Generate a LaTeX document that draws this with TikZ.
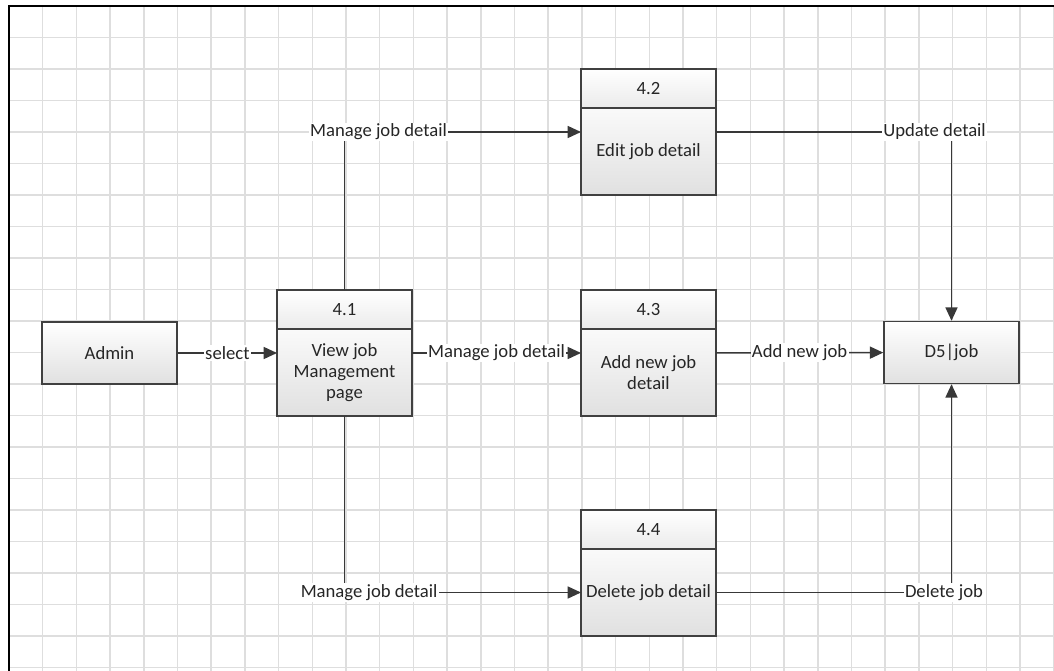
\documentclass[tikz,border=0pt]{standalone}
\usepackage{fontspec}
\setmainfont{Carlito}
\usetikzlibrary{arrows.meta,positioning,fit}

\begin{document}
\begin{tikzpicture}[
        x=0.75pt, y=-0.75pt,
        font=\fontsize{14}{15.8}\selectfont,
        gridline/.style={draw=black!13, line width=1.1pt},
        entity/.style={draw=black!75, line width=1.1pt, top color=white, bottom color=black!12, minimum width=101.25pt, minimum height=46.5pt, text=black!85},
        prochead/.style={draw=black!75, line width=1.1pt, top color=white, bottom color=black!8, minimum width=101.25pt, minimum height=29.25pt, inner sep=0pt, outer sep=0pt, text=black!85},
        procbody/.style={prochead, top color=black!2, bottom color=black!12, minimum height=65.25pt, align=center},
        procbox/.style={inner sep=0pt, outer sep=0pt},
        flow/.style={draw=black!78, line width=1.1pt, -{Triangle[length=10pt, width=9pt]}},
        flowlabel/.style={fill=white, inner sep=1pt, text=black!85},
    ]

    \useasboundingbox (0,0) rectangle (1054,671);
    \fill[white] (0,0) rectangle (1054,671);

    % Grid
    \foreach \k in {1,...,31}
        \draw[gridline] ({9+33.7*\k},6) -- ({9+33.7*\k},671);
    \foreach \k in {1,...,21}
        \draw[gridline] (9,{6+31.5*\k}) -- (1054,{6+31.5*\k});
    \draw[black, line width=1.5pt] (9,671) -- (9,6) -- (1054,6);

    % Entities
    \node[entity] (admin) at (109.5,353) {Admin};
    \node[entity] (d5) at (951.5,352.5) {D5|job};

    % Processes
    \node[prochead, anchor=north] (n41) at (344.5,290) {4.1};
    \node[procbody, below=0pt of n41] (p41) {View job\\Management\\page};
    \node[procbox, fit=(n41)(p41)] (b41) {};

    \node[prochead, anchor=north] (n42) at (648.5,69) {4.2};
    \node[procbody, below=0pt of n42] (p42) {Edit job detail};
    \node[procbox, fit=(n42)(p42)] (b42) {};

    \node[prochead, anchor=north] (n43) at (648.5,290) {4.3};
    \node[procbody, below=0pt of n43] (p43) {Add new job\\detail};
    \node[procbox, fit=(n43)(p43)] (b43) {};

    \node[prochead, anchor=north] (n44) at (648.5,510) {4.4};
    \node[procbody, below=0pt of n44] (p44) {Delete job detail};
    \node[procbox, fit=(n44)(p44)] (b44) {};

    % Flows
    \draw[flow] (admin) -- node[flowlabel] {select} (b41);
    \draw[flow] (b41.north) |- node[flowlabel, pos=0.572] {Manage job detail} (b42.west);
    \draw[flow] (b41) -- node[flowlabel] {Manage job detail} (b43);
    \draw[flow] (b41.south) |- node[flowlabel, pos=0.552] {Manage job detail} (p44.west);
    \draw[flow] (b42.east) -| node[flowlabel, pos=0.464] {Update detail} (d5.north);
    \draw[flow] (b43) -- node[flowlabel] {Add new job} (d5);
    \draw[flow] (p44.east) -| node[flowlabel, pos=0.484] {Delete job} (d5.south);

\end{tikzpicture}
\end{document}
